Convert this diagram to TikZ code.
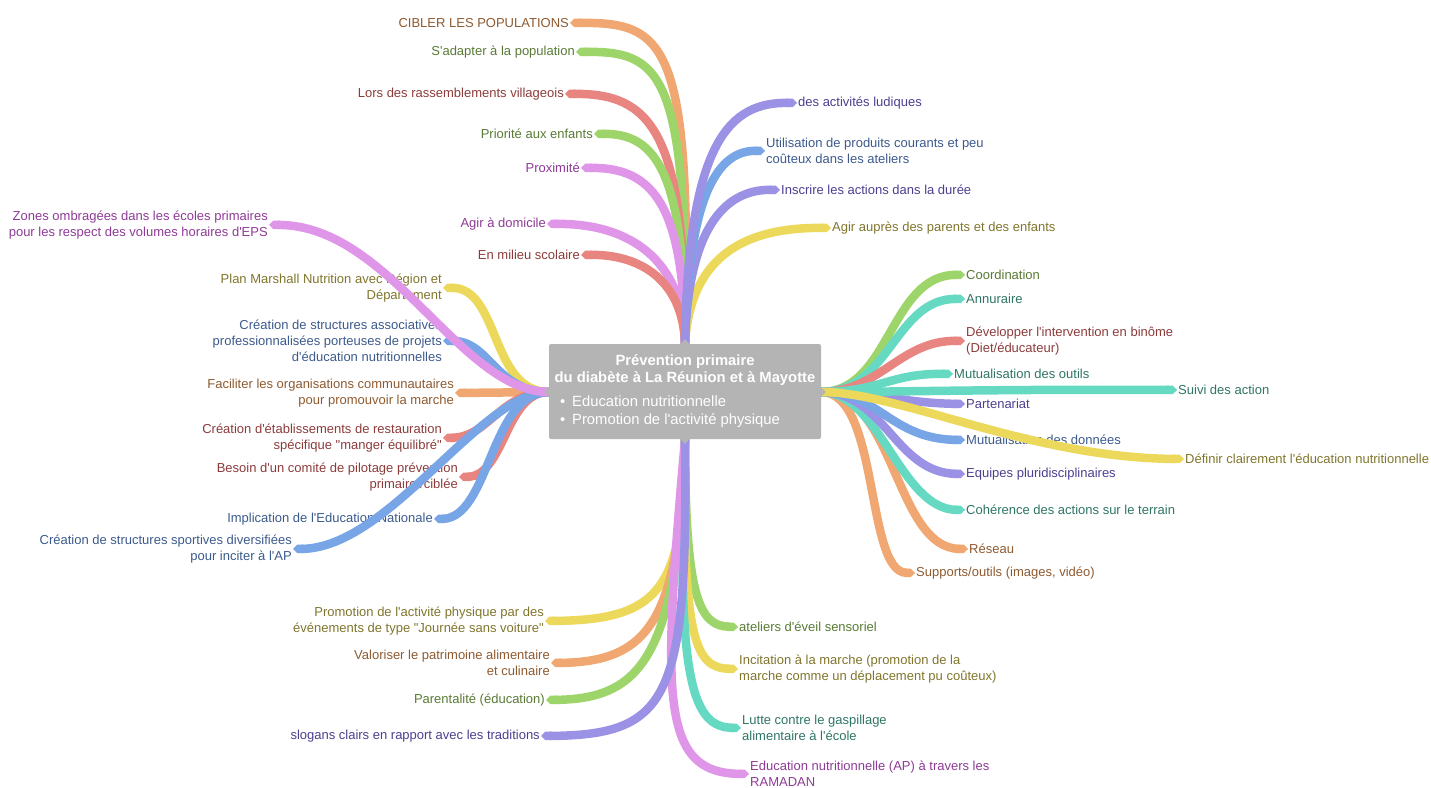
\documentclass[tikz,border=0pt]{standalone}
\usepackage{fontspec}
\setmainfont[Ligatures=TeXOff]{Liberation Sans}
\usetikzlibrary{arrows.meta}
\definecolor{cO}{HTML}{F1A771}
\definecolor{cG}{HTML}{9DD56A}
\definecolor{cR}{HTML}{E88580}
\definecolor{cP}{HTML}{E096E8}
\definecolor{cV}{HTML}{9B92E6}
\definecolor{cB}{HTML}{78A5E6}
\definecolor{cY}{HTML}{ECD95C}
\definecolor{cT}{HTML}{66D9C3}
\definecolor{tO}{HTML}{8E5A30}
\definecolor{tG}{HTML}{587A34}
\definecolor{tR}{HTML}{8C3B3B}
\definecolor{tP}{HTML}{8E3A96}
\definecolor{tV}{HTML}{4B3F90}
\definecolor{tB}{HTML}{3C5A8C}
\definecolor{tY}{HTML}{80752C}
\definecolor{tT}{HTML}{2E7565}
\definecolor{boxgray}{HTML}{B4B4B4}
\tikzset{
  br/.style={line width=8.5pt, line cap=butt, -{Triangle Cap}},
  lbl/.style={inner sep=1pt, yshift=-1pt, font=\fontsize{13}{16}\selectfont},
  lL/.style={lbl, anchor=east, align=right},
  lR/.style={lbl, anchor=west, align=left},
  centerbox/.style={fill=boxgray, rounded corners=2pt, minimum width=272pt, minimum height=95pt, inner sep=0pt},
  notch/.style={fill=boxgray, draw=none},
}
\begin{document}
\begin{tikzpicture}[x=1pt,y=-1pt]
\useasboundingbox (0,0) rectangle (1431,787);
\coordinate (T) at (685,344);
\coordinate (L) at (549,392);
\coordinate (R) at (821,392);
\coordinate (B) at (685,439);
% ---------- labels ----------
% top
\node[lL,text=tO] (t1) at (570,22) {CIBLER LES POPULATIONS};
\node[lL,text=tG] (t2) at (576,51) {S'adapter à la population};
\node[lL,text=tR] (t3) at (565,93) {Lors des rassemblements villageois};
\node[lL,text=tG] (t4) at (594,133) {Priorité aux enfants};
\node[lL,text=tP] (t5) at (581,167) {Proximité};
\node[lL,text=tP] (t6) at (547,223) {Agir à domicile};
\node[lL,text=tR] (t7) at (581,254) {En milieu scolaire};
\node[lR,text=tV] (t8) at (797,102) {des activités ludiques};
\node[lR,text=tB] (t9) at (765,150) {Utilisation de produits courants et peu\\coûteux dans les ateliers};
\node[lR,text=tV] (t10) at (780,189) {Inscrire les actions dans la durée};
\node[lR,text=tY] (t11) at (831,227) {Agir auprès des parents et des enfants};
% left
\node[lL,text=tP] (l1) at (269,224) {Zones ombragées dans les écoles primaires\\pour les respect des volumes horaires d'EPS};
\node[lL,text=tY] (l2) at (443,287) {Plan Marshall Nutrition avec Région et\\Département};
\node[lL,text=tB] (l3) at (443,340) {Création de structures associatives\\professionnalisées porteuses de projets\\d'éducation nutritionnelles};
\node[lL,text=tO] (l4) at (455,392) {Faciliter les organisations communautaires\\pour promouvoir la marche};
\node[lL,text=tR] (l5) at (443,437) {Création d'établissements de restauration\\spécifique "manger équilibré"};
\node[lL,text=tR] (l6) at (459,476) {Besoin d'un comité de pilotage prévention\\primaire /ciblée};
\node[lL,text=tB] (l7) at (434,518) {Implication de l'Education Nationale};
\node[lL,text=tB] (l8) at (293,548) {Création de structures sportives diversifiées\\pour inciter à l'AP};
% right
\node[lR,text=tG] (r1) at (965,274) {Coordination};
\node[lR,text=tT] (r2) at (965,298) {Annuraire};
\node[lR,text=tR] (r3) at (965,340) {Développer l'intervention en binôme\\(Diet/éducateur)};
\node[lR,text=tT] (r4) at (953,373) {Mutualisation des outils};
\node[lR,text=tT] (r5) at (1177,389) {Suivi des action};
\node[lR,text=tV] (r6) at (965,403) {Partenariat};
\node[lR,text=tB] (r7) at (965,439) {Mutualisation des données};
\node[lR,text=tY] (r8) at (1184,458) {Définir clairement l'éducation nutritionnelle};
\node[lR,text=tV] (r9) at (965,473) {Equipes pluridisciplinaires};
\node[lR,text=tT] (r10) at (965,509) {Cohérence des actions sur le terrain};
\node[lR,text=tO] (r11) at (968,548) {Réseau};
\node[lR,text=tO] (r12) at (915,572) {Supports/outils (images, vidéo)};
% bottom
\node[lL,text=tY] (b1) at (545,620) {Promotion de l'activité physique par des\\événements de type "Journée sans voiture"};
\node[lL,text=tO] (b2) at (551,662) {Valoriser le patrimoine alimentaire\\et culinaire};
\node[lL,text=tG] (b3) at (546,699) {Parentalité (éducation)};
\node[lL,text=tV] (b4) at (541,735) {slogans clairs en rapport avec les traditions};
\node[lR,text=tG] (b5) at (738,626) {ateliers d'éveil sensoriel};
\node[lR,text=tY] (b6) at (738,668) {Incitation à la marche (promotion de la\\marche comme un déplacement pu coûteux)};
\node[lR,text=tT] (b7) at (741,727) {Lutte contre le gaspillage\\alimentaire à l'école};
\node[lR,text=tP] (b8) at (749,773) {Education nutritionnelle (AP) à travers les\\RAMADAN};
% ---------- branches ----------
% top
\draw[br,draw=cO] (T) .. controls (692,40) and (665,22) .. (t1.east);
\draw[br,draw=cG] (T) .. controls (688,70) and (660,51) .. (t2.east);
\draw[br,draw=cR] (T) .. controls (686,130) and (650,93) .. (t3.east);
\draw[br,draw=cG] (T) .. controls (685,170) and (655,133) .. (t4.east);
\draw[br,draw=cP] (T) .. controls (684,200) and (650,167) .. (t5.east);
\draw[br,draw=cP] (T) .. controls (684,260) and (630,223) .. (t6.east);
\draw[br,draw=cR] (T) .. controls (683,280) and (640,254) .. (t7.east);
\draw[br,draw=cY] (T) .. controls (690,260) and (740,227) .. (t11.west);
\draw[br,draw=cV] (T) .. controls (688,220) and (730,189) .. (t10.west);
\draw[br,draw=cB] (T) .. controls (688,190) and (720,150) .. (t9.west);
\draw[br,draw=cV] (T) .. controls (688,140) and (730,102) .. (t8.west);
% left
\draw[br,draw=cY] (L) .. controls (490,392) and (500,287) .. (l2.east);
\draw[br,draw=cB] (L) .. controls (495,392) and (490,340) .. (l3.east);
\draw[br,draw=cO] (L) -- (l4.east);
\draw[br,draw=cR] (L) .. controls (500,392) and (490,437) .. (l5.east);
\draw[br,draw=cR] (L) .. controls (505,392) and (505,476) .. (l6.east);
\draw[br,draw=cB] (L) .. controls (490,392) and (490,518) .. (l7.east);
\draw[br,draw=cB] (L) .. controls (480,392) and (390,548) .. (l8.east);
\draw[br,draw=cP] (L) .. controls (460,392) and (390,224) .. (l1.east);
% right
\draw[br,draw=cO] (R) .. controls (880,392) and (865,572) .. (r12.west);
\draw[br,draw=cO] (R) .. controls (895,392) and (895,548) .. (r11.west);
\draw[br,draw=cT] (R) .. controls (880,392) and (900,509) .. (r10.west);
\draw[br,draw=cV] (R) .. controls (885,392) and (895,473) .. (r9.west);
\draw[br,draw=cB] (R) .. controls (880,392) and (890,439) .. (r7.west);
\draw[br,draw=cV] (R) .. controls (880,392) and (900,403) .. (r6.west);
\draw[br,draw=cG] (R) .. controls (890,392) and (890,274) .. (r1.west);
\draw[br,draw=cT] (R) .. controls (890,392) and (895,298) .. (r2.west);
\draw[br,draw=cR] (R) .. controls (880,392) and (900,340) .. (r3.west);
\draw[br,draw=cT] (R) .. controls (880,392) and (890,373) .. (r4.west);
\draw[br,draw=cT] (R) .. controls (900,392) and (1000,389) .. (r5.west);
\draw[br,draw=cY] (R) .. controls (900,392) and (1030,458) .. (r8.west);
% bottom
\draw[br,draw=cY] (B) .. controls (685,590) and (660,620) .. (b1.east);
\draw[br,draw=cO] (B) .. controls (680,620) and (650,662) .. (b2.east);
\draw[br,draw=cG] (B) .. controls (678,660) and (640,699) .. (b3.east);
\draw[br,draw=cG] (B) .. controls (685,600) and (700,626) .. (b5.west);
\draw[br,draw=cY] (B) .. controls (682,640) and (695,668) .. (b6.west);
\draw[br,draw=cT] (B) .. controls (675,690) and (695,727) .. (b7.west);
\draw[br,draw=cP] (B) .. controls (662,700) and (660,773) .. (b8.west);
\draw[br,draw=cV] (B) .. controls (688,700) and (670,735) .. (b4.east);
% ---------- central box ----------
\node[centerbox] (C) at (685,391.5) {};
\fill[notch] (680,344.5) -- (685,339) -- (690,344.5) -- cycle;
\fill[notch] (680,438.5) -- (685,444) -- (690,438.5) -- cycle;
\fill[notch] (549.5,387) -- (544,392) -- (549.5,397) -- cycle;
\fill[notch] (820.5,387) -- (826,392) -- (820.5,397) -- cycle;
\node[text=white, align=center, inner sep=0pt, font=\bfseries\fontsize{14.8}{17}\selectfont] (Ct) at (685,370) {Prévention primaire\\du diabète à La Réunion et à Mayotte};
\node[text=white, align=left, anchor=west, inner sep=0pt, font=\fontsize{14.8}{18}\selectfont] (Cb) at (572,411.5) {\llap{•\hspace{7pt}}Education nutritionnelle\\\llap{•\hspace{7pt}}Promotion de l'activité physique};
\end{tikzpicture}
\end{document}
